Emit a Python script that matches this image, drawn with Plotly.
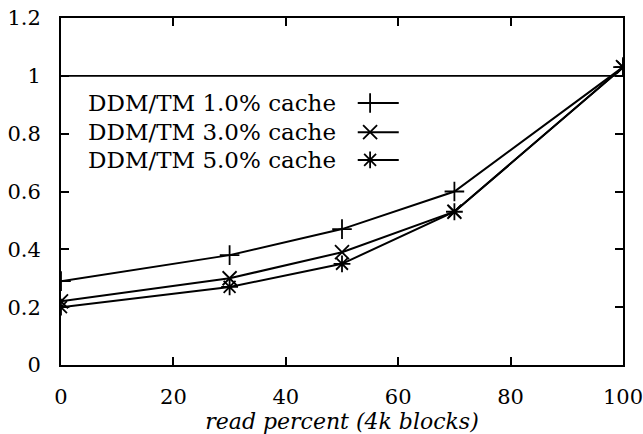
import plotly.graph_objects as go

read_pct = [0, 30, 50, 70, 100]
ddm_1 = [0.29, 0.38, 0.47, 0.60, 1.03]
ddm_3 = [0.22, 0.30, 0.39, 0.53, 1.03]
ddm_5 = [0.20, 0.27, 0.35, 0.53, 1.03]
labels = ["DDM/TM 1.0% cache", "DDM/TM 3.0% cache", "DDM/TM 5.0% cache"]
symbols = ["cross-thin-open", "x-thin-open", "asterisk-open"]
series = [ddm_1, ddm_3, ddm_5]

FONT = "DejaVu Serif"
fig = go.Figure()
for ys, lab, sym in zip(series, labels, symbols):
    fig.add_trace(go.Scatter(
        x=read_pct, y=ys, mode="lines+markers", name=lab, showlegend=False,
        line=dict(color="black", width=2),
        marker=dict(symbol=sym, size=14, color="black", line=dict(color="black", width=1.8)),
    ))

# custom legend (text left, sample right) on a hidden overlay axis
leg_y = [0.755, 0.671, 0.591]
for lab, sym, yy in zip(labels, symbols, leg_y):
    fig.add_trace(go.Scatter(
        x=[0.528, 0.601], y=[yy, yy], mode="lines", xaxis="x2", yaxis="y2",
        line=dict(color="black", width=2), showlegend=False, hoverinfo="skip"))
    fig.add_trace(go.Scatter(
        x=[0.55], y=[yy], mode="markers", xaxis="x2", yaxis="y2",
        marker=dict(symbol=sym, size=14, color="black", line=dict(color="black", width=1.8)),
        showlegend=False, hoverinfo="skip"))
    fig.add_annotation(x=0.493, y=yy, xref="x2", yref="y2", text=lab, showarrow=False,
                       xanchor="right", yanchor="middle",
                       font=dict(family=FONT, size=23, color="black"))

fig.add_shape(type="line", xref="paper", yref="y", x0=0, x1=1, y0=1, y1=1,
              line=dict(color="black", width=1.8))

axis_common = dict(showline=True, linecolor="black", linewidth=2, mirror="ticks",
                   ticks="inside", ticklen=8, tickwidth=1.6, tickcolor="black",
                   showgrid=False, zeroline=False, ticklabeloverflow="allow",
                   tickfont=dict(family=FONT, size=21, color="black"))
fig.update_layout(
    width=643, height=434, paper_bgcolor="white", plot_bgcolor="white",
    margin=dict(l=61, r=20, t=18, b=69, autoexpand=False),
    xaxis=dict(range=[0, 100], tickvals=[0, 20, 40, 60, 80, 100],
               ticklabelstandoff=12, automargin=False,
               title=dict(text="<i>read percent (4k blocks)</i>", standoff=0,
                          font=dict(family=FONT, size=22, color="black")),
               **axis_common),
    yaxis=dict(range=[0, 1.2], tickvals=[0, 0.2, 0.4, 0.6, 0.8, 1, 1.2],
               ticklabelstandoff=14, automargin=False, **axis_common),
    xaxis2=dict(range=[0, 1], overlaying="x", visible=False, fixedrange=True),
    yaxis2=dict(range=[0, 1], overlaying="y", visible=False, fixedrange=True),
)
fig.write_html("out.html")
